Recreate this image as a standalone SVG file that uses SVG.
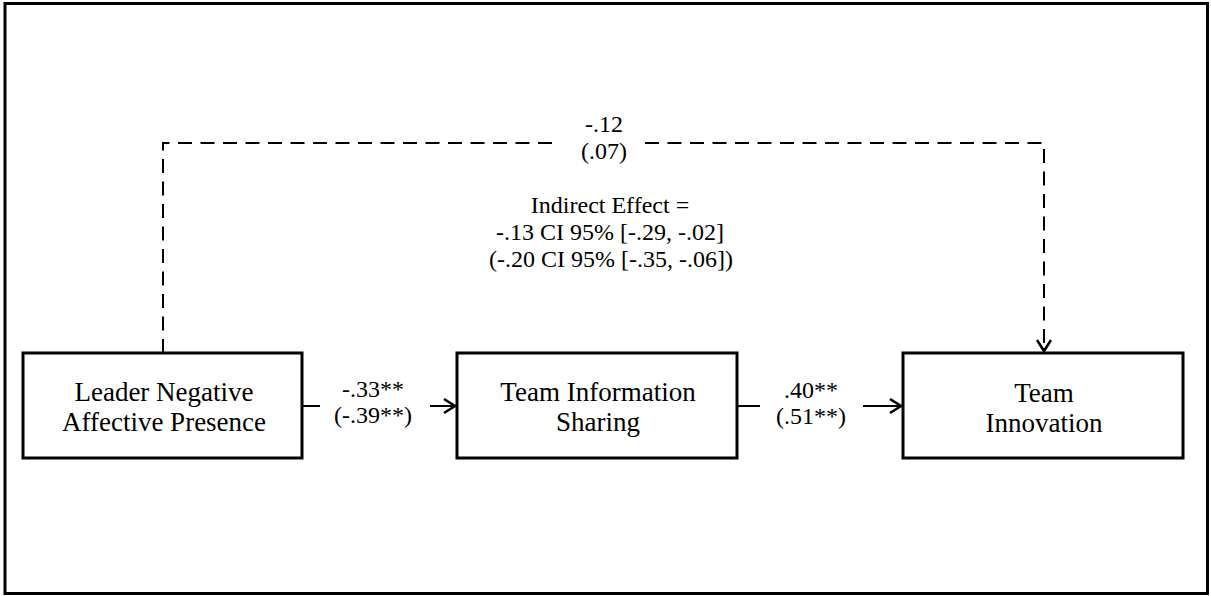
<svg xmlns="http://www.w3.org/2000/svg" width="1211" height="596" viewBox="0 0 1211 596">
<style>
.frame{fill:#fff;stroke:#000;stroke-width:3}
.box{fill:#fff;stroke:#000;stroke-width:3}
.node{font-family:"Liberation Serif","Times New Roman",serif;font-size:27px;fill:#000;text-anchor:middle}
.lbl{font-family:"Liberation Serif","Times New Roman",serif;font-size:24px;fill:#000;text-anchor:middle}
.edge{fill:none;stroke:#000;stroke-width:2}
.dash{stroke-dasharray:14 8.5}
</style>
<defs>
<marker id="arr" markerUnits="userSpaceOnUse" markerWidth="20" markerHeight="20" viewBox="-14 -10 16 20" refX="0" refY="0" orient="auto">
<path d="M-11,-7 L0,0 L-11,7" fill="none" stroke="#000" stroke-width="2.6"/>
</marker>
</defs>
<rect class="frame" x="5" y="3.5" width="1202.5" height="590"/>
<g id="connectors">
<path class="edge" d="M303,406 H320"/>
<path class="edge" d="M430,406 H455" marker-end="url(#arr)"/>
<path class="edge" d="M737,406 H760"/>
<path class="edge" d="M863,406 H901" marker-end="url(#arr)"/>
<path class="edge dash" d="M163,353 V143 H557"/>
<path class="edge dash" d="M645,143 H1044 V351" marker-end="url(#arr)"/>
<text class="lbl" x="373" y="397">-.33**</text>
<text class="lbl" x="373" y="423">(-.39**)</text>
<text class="lbl" x="811" y="398">.40**</text>
<text class="lbl" x="811" y="424">(.51**)</text>
<text class="lbl" x="604" y="132">-.12</text>
<text class="lbl" x="604" y="159">(.07)</text>
<text class="lbl" x="610" y="213">Indirect Effect =</text>
<text class="lbl" x="610" y="240">-.13 CI 95% [-.29, -.02]</text>
<text class="lbl" x="611" y="267">(-.20 CI 95% [-.35, -.06])</text>
</g>
<g id="leader">
<rect class="box" x="23" y="353" width="279" height="105"/>
<text class="node" x="164" y="401">Leader Negative</text>
<text class="node" x="164" y="431">Affective Presence</text>
</g>
<g id="sharing">
<rect class="box" x="457" y="353" width="280" height="105"/>
<text class="node" x="598" y="401">Team Information</text>
<text class="node" x="598" y="431">Sharing</text>
</g>
<g id="innovation">
<rect class="box" x="903" y="353" width="280" height="105"/>
<text class="node" x="1044" y="402">Team</text>
<text class="node" x="1044" y="432">Innovation</text>
</g>
</svg>
